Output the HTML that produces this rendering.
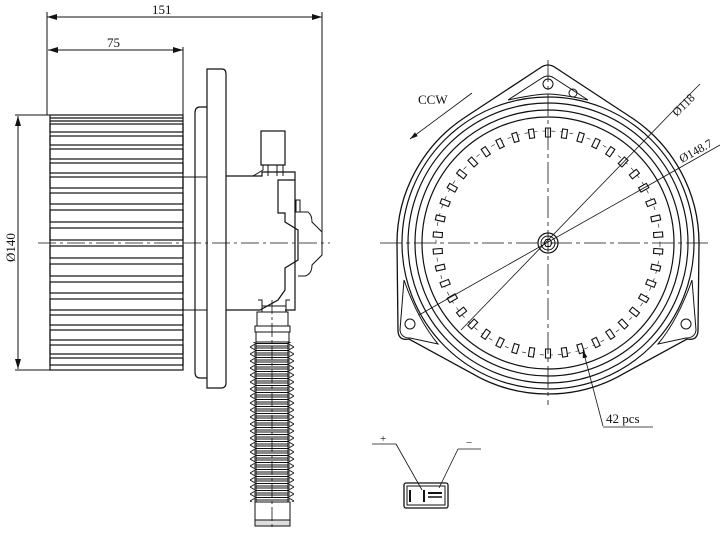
<!DOCTYPE html>
<html><head><style>html,body{margin:0;padding:0;background:#fff}svg{display:block}</style></head><body>
<svg width="728" height="533" viewBox="0 0 728 533" xmlns="http://www.w3.org/2000/svg" font-family="Liberation Serif, serif" fill="none" stroke="#111" stroke-width="1">
<defs>
<marker id="ar" viewBox="0 0 10 6" refX="10" refY="3" markerWidth="10" markerHeight="6" orient="auto-start-reverse"><path d="M0,0 L10,3 L0,6 Z" fill="#111" stroke="none"/></marker>
<pattern id="bel" x="250" y="340" width="44" height="7" patternUnits="userSpaceOnUse">
<path d="M0,0 L6,3.5 L0,7 M44,0 L38,3.5 L44,7 M6,3.5 L38,3.5 M4,1 L40,1 M4,6 L40,6" stroke="#111" stroke-width="0.9"/>
</pattern>
<path id="fin" d="M-2.5,-106 L-2.5,-115 L2.5,-115 L2.5,-106 Z" fill="#fff" stroke="#111" stroke-width="1.1"/>
</defs>

<line x1="47" y1="17" x2="322" y2="17" marker-start="url(#ar)" marker-end="url(#ar)"/>
<text x="152" y="14" font-size="13" fill="#111" stroke="none">151</text>
<line x1="172" y1="17" x2="190" y2="17"/>
<line x1="47" y1="12" x2="47" y2="115"/>
<line x1="322" y1="12" x2="322" y2="243"/>
<line x1="48" y1="50" x2="183" y2="50" marker-start="url(#ar)" marker-end="url(#ar)"/>
<text x="107" y="47" font-size="13" fill="#111" stroke="none">75</text>
<line x1="183" y1="47" x2="183" y2="115"/>
<line x1="15" y1="115" x2="50" y2="115"/>
<line x1="15" y1="370" x2="50" y2="370"/>
<line x1="18" y1="116" x2="18" y2="369" marker-start="url(#ar)" marker-end="url(#ar)"/>
<text transform="translate(15,262) rotate(-90)" font-size="13" fill="#111" stroke="none">Ø140</text>

<rect x="50" y="115" width="133" height="255" stroke-width="1.2"/>
<g stroke-width="1.2">
<line x1="50" y1="118" x2="183" y2="118"/><line x1="50" y1="121" x2="183" y2="121"/>
<rect x="50" y="124" width="133" height="8"/><rect x="50" y="136" width="133" height="9"/>
<rect x="50" y="149" width="133" height="10"/><rect x="50" y="163" width="133" height="10"/>
<rect x="50" y="177" width="133" height="11"/><rect x="50" y="193" width="133" height="11"/>
<rect x="50" y="210" width="133" height="12"/><rect x="50" y="228" width="133" height="12"/>
<rect x="50" y="246" width="133" height="12"/><rect x="50" y="264" width="133" height="12"/>
<rect x="50" y="282" width="133" height="11"/><rect x="50" y="299" width="133" height="11"/>
<rect x="50" y="315" width="133" height="10"/><rect x="50" y="330" width="133" height="10"/>
<rect x="50" y="345" width="133" height="9"/><rect x="50" y="358" width="133" height="7"/>
</g>
<path d="M207,107 L200,107 Q195,107 195,113 L195,372 Q195,378 200,378 L207,378" stroke-width="1.2"/>
<path d="M207,69 L222,69 Q226,69 226,74 L226,383 Q226,388 221,388 L207,388 Z" stroke-width="1.2"/>
<line x1="183" y1="177" x2="207" y2="177"/>
<line x1="183" y1="310" x2="207" y2="310"/>
<path d="M226,176 L262,176 L262,172 L295,172 L295,180 L278,180 L278,213 L285,213 L285,222 L298,230 L298,260 L285,268 L285,290 L278,300 L260,310 L226,310" stroke-width="1.2"/>
<path d="M295,180 L295,310 L285,310" stroke-width="1.2"/>
<rect x="261" y="131" width="24" height="34" stroke-width="1.2"/>
<path d="M253,176 L263,170 L263,165 L283,165 L283,176" />
<line x1="268" y1="165" x2="268" y2="176"/><line x1="277" y1="165" x2="277" y2="176"/>
<path d="M298,212 L308,212 Q312,215 312,222 L322,232 L322,255 L312,265 Q312,274 305,276 L298,276"/>
<rect x="296" y="200" width="4" height="12"/>
<line x1="38" y1="243" x2="330" y2="243" stroke-dasharray="18,4,3,4" stroke-width="0.8"/>
<path d="M258,300 L262,300 L262,312 L286,312 L286,300 L290,300"/>
<line x1="262" y1="306" x2="286" y2="306"/>
<rect x="257" y="312" width="31" height="14"/>
<rect x="255" y="326" width="35" height="6"/>
<rect x="256" y="332" width="33" height="10"/>
<rect x="250" y="342" width="44" height="160" fill="url(#bel)" stroke="none"/>
<line x1="256" y1="342" x2="256" y2="502"/><line x1="288" y1="342" x2="288" y2="502"/>
<rect x="255" y="502" width="35" height="18"/>
<rect x="255" y="520" width="35" height="6" fill="#ddd"/>
<line x1="272" y1="300" x2="272" y2="530" stroke-dasharray="14,3,3,3" stroke-width="0.8"/>

<path d="M467,116 L540,68 Q548,62 556,68 L629,116 A151,151 0 0 1 699,245 L698,330 Q698,341 687,339 L616.5,377.6 A151,151 0 0 1 479.5,377.6 L409,339 Q398,341 398,330 L397,245 A151,151 0 0 1 467,116 Z" stroke-width="1.3"/>
<path d="M508,100 L542,78 Q548,74 554,78 L588,100 Q560,94 548,94 Q536,94 508,100 Z"/>
<path d="M404,280 L400,330 Q401,338 410,338 L438,344 Q418,320 404,280 Z"/>
<path d="M692,280 L696,330 Q695,338 686,338 L658,344 Q678,320 692,280 Z"/>
<circle cx="548" cy="243" r="146" stroke-width="1.2"/>
<circle cx="548" cy="243" r="140" stroke-width="1.2"/>
<circle cx="548" cy="243" r="133" stroke-width="1.2"/>
<circle cx="548" cy="243" r="126" stroke-width="1.2"/>
<circle cx="548" cy="243" r="112" stroke-width="0.6" stroke-dasharray="4,5"/>
<g transform="translate(548,243)">
<use href="#fin" transform="rotate(0)"/><use href="#fin" transform="rotate(8.57)"/><use href="#fin" transform="rotate(17.14)"/><use href="#fin" transform="rotate(25.71)"/><use href="#fin" transform="rotate(34.29)"/><use href="#fin" transform="rotate(42.86)"/><use href="#fin" transform="rotate(51.43)"/><use href="#fin" transform="rotate(60)"/><use href="#fin" transform="rotate(68.57)"/><use href="#fin" transform="rotate(77.14)"/><use href="#fin" transform="rotate(85.71)"/><use href="#fin" transform="rotate(94.29)"/><use href="#fin" transform="rotate(102.86)"/><use href="#fin" transform="rotate(111.43)"/><use href="#fin" transform="rotate(120)"/><use href="#fin" transform="rotate(128.57)"/><use href="#fin" transform="rotate(137.14)"/><use href="#fin" transform="rotate(145.71)"/><use href="#fin" transform="rotate(154.29)"/><use href="#fin" transform="rotate(162.86)"/><use href="#fin" transform="rotate(171.43)"/><use href="#fin" transform="rotate(180)"/><use href="#fin" transform="rotate(188.57)"/><use href="#fin" transform="rotate(197.14)"/><use href="#fin" transform="rotate(205.71)"/><use href="#fin" transform="rotate(214.29)"/><use href="#fin" transform="rotate(222.86)"/><use href="#fin" transform="rotate(231.43)"/><use href="#fin" transform="rotate(240)"/><use href="#fin" transform="rotate(248.57)"/><use href="#fin" transform="rotate(257.14)"/><use href="#fin" transform="rotate(265.71)"/><use href="#fin" transform="rotate(274.29)"/><use href="#fin" transform="rotate(282.86)"/><use href="#fin" transform="rotate(291.43)"/><use href="#fin" transform="rotate(300)"/><use href="#fin" transform="rotate(308.57)"/><use href="#fin" transform="rotate(317.14)"/><use href="#fin" transform="rotate(325.71)"/><use href="#fin" transform="rotate(334.29)"/><use href="#fin" transform="rotate(342.86)"/><use href="#fin" transform="rotate(351.43)"/>
</g>
<circle cx="548" cy="84" r="5"/><circle cx="573" cy="93" r="4"/>
<circle cx="410" cy="324" r="5"/><circle cx="686" cy="324" r="5"/>
<circle cx="548" cy="243" r="10" stroke-width="1.2"/><circle cx="548" cy="243" r="7"/>
<polygon points="552,243 550,246.5 546,246.5 544,243 546,239.5 550,239.5"/>
<line x1="380" y1="243" x2="712" y2="243" stroke-dasharray="22,4,4,4" stroke-width="0.8"/>
<line x1="548" y1="60" x2="548" y2="405" stroke-dasharray="22,4,4,4" stroke-width="0.8"/>
<line x1="461" y1="330" x2="672" y2="112" stroke-width="0.8"/>
<line x1="672" y1="112" x2="700" y2="84" stroke-width="0.8"/>
<line x1="419" y1="315" x2="720" y2="145" stroke-width="0.8"/>
<text transform="translate(677,117) rotate(-45)" font-size="12" fill="#111" stroke="none">Ø118</text>
<text transform="translate(682,163) rotate(-29)" font-size="12" fill="#111" stroke="none">Ø148.7</text>
<text x="418" y="104" font-size="13" fill="#111" stroke="none">CCW</text>
<line x1="472" y1="93" x2="410" y2="139" stroke-width="0.8" marker-end="url(#ar)"/>
<line x1="603" y1="426" x2="583" y2="350" stroke-width="0.8" marker-end="url(#ar)"/>
<line x1="603" y1="427" x2="653" y2="427" stroke-width="0.8"/>
<text x="606" y="423" font-size="13" fill="#111" stroke="none">42 pcs</text>
<text x="380" y="442" font-size="11" fill="#111" stroke="none">+</text>
<text x="466" y="446" font-size="11" fill="#111" stroke="none">−</text>
<line x1="372" y1="444" x2="396" y2="444" stroke-width="0.8"/>
<line x1="396" y1="444" x2="422" y2="490" stroke-width="0.8"/>
<line x1="458" y1="449" x2="481" y2="449" stroke-width="0.8"/>
<line x1="458" y1="449" x2="439" y2="488" stroke-width="0.8"/>
<rect x="404" y="483" width="44" height="25" rx="2" stroke-width="1.3"/>
<rect x="407" y="486" width="38" height="19" stroke-width="1"/>
<line x1="410" y1="490" x2="410" y2="502" stroke-width="2"/>
<line x1="424" y1="490" x2="424" y2="502" stroke-width="2"/>
<line x1="428" y1="493" x2="442" y2="493" stroke-width="2"/>
<line x1="428" y1="497" x2="442" y2="497" stroke-width="1.5"/>
</svg>
</body></html>
